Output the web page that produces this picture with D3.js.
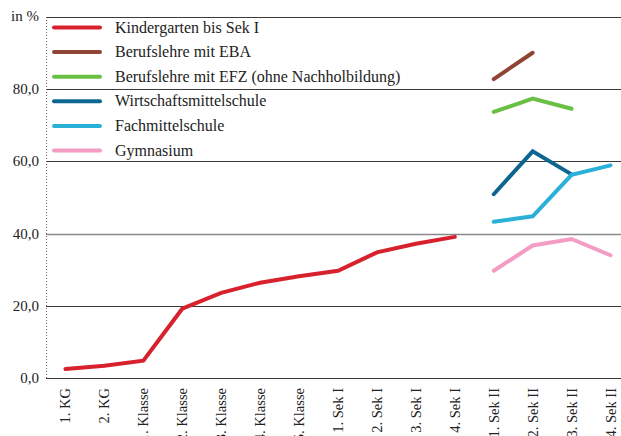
<!DOCTYPE html>
<html>
<head>
<meta charset="utf-8">
<script src="https://cdn.jsdelivr.net/npm/d3@7"></script>
<style>
  body { margin: 0; background: #fff; }
  svg { display: block; }
  text { font-family: 'Liberation Serif', 'Times New Roman', 'DejaVu Serif', serif; }
</style>
</head>
<body>
<svg id="chart" width="621" height="436"></svg>
<script>
// categories along the x axis
const categories = ['1. KG', '2. KG', '1. Klasse', '2. Klasse', '3. Klasse', '4. Klasse', '5. Klasse',
    '1. Sek I', '2. Sek I', '3. Sek I', '4. Sek I', '1. Sek II', '2. Sek II', '3. Sek II', '4. Sek II'];

// series values (null = no value)
const kindergarten = [2.5, 3.4, 4.8, 19.2, 23.6, 26.4, 28.2, 29.7, 34.8, 37.2, 39.1, null, null, null, null];
const eba = [null, null, null, null, null, null, null, null, null, null, null, 82.8, 90.1, null, null];
const efz = [null, null, null, null, null, null, null, null, null, null, null, 73.7, 77.4, 74.6, null];
const wms = [null, null, null, null, null, null, null, null, null, null, null, 50.9, 62.8, 56.4, null];
const fms = [null, null, null, null, null, null, null, null, null, null, null, 43.3, 44.8, 56.3, 58.9];
const gym = [null, null, null, null, null, null, null, null, null, null, null, 29.7, 36.7, 38.5, 34.0];

const seriesNames = ['Kindergarten bis Sek I', 'Berufslehre mit EBA', 'Berufslehre mit EFZ (ohne Nachholbildung)',
    'Wirtschaftsmittelschule', 'Fachmittelschule', 'Gymnasium'];
const seriesColors = ['#d7222e', '#904436', '#6abf45', '#0d6690', '#2bb0d8', '#f39cc4'];
const yTicks = [0, 20, 40, 60, 80, 100];

const allSeries = [kindergarten, eba, efz, wms, fms, gym];

const svg = d3.select('#chart');
const plotLeft = 46, plotRight = 621, plotTop = 17, plotBottom = 378;

const x = d3.scalePoint().domain(categories).range([plotLeft, 630]).padding(0.5);
const y = d3.scaleLinear().domain([0, 100]).range([plotBottom, plotTop]);

// gridlines
svg.append('g').selectAll('line').data(yTicks).enter().append('line')
    .attr('x1', plotLeft).attr('x2', plotRight)
    .attr('y1', d => Math.round(y(d)) + 0.5).attr('y2', d => Math.round(y(d)) + 0.5)
    .attr('stroke', d => d == 40 ? '#8a8a8a' : '#3a3a3a')
    .attr('stroke-width', d => d == 40 ? 1.6 : 1);

// dotted left axis
svg.append('line')
    .attr('x1', plotLeft + 0.5).attr('x2', plotLeft + 0.5)
    .attr('y1', plotTop).attr('y2', plotBottom)
    .attr('stroke', '#666').attr('stroke-dasharray', '1,2');

// y tick labels
svg.append('g').selectAll('text').data(yTicks.filter(d => d < 100)).enter().append('text')
    .attr('x', 39).attr('y', d => y(d) + 5)
    .attr('text-anchor', 'end')
    .attr('font-size', 15)
    .attr('fill', '#222')
    .text(d => d3.format('.1f')(d).replace('.', ','));

svg.append('text').attr('x', 11).attr('y', 21)
    .attr('font-size', 15).attr('fill', '#222').text('in %');

// x labels, rotated
svg.append('g').selectAll('text').data(categories).enter().append('text')
    .attr('transform', d => 'translate(' + (x(d) + 5) + ',388) rotate(-90)')
    .attr('text-anchor', 'end')
    .attr('font-size', 14.5)
    .attr('fill', '#222')
    .text(d => d);

// lines
const line = d3.line()
    .defined(d => d != null)
    .x((d, i) => x(categories[i]))
    .y(d => y(d));

svg.append('g').selectAll('path').data(allSeries).enter().append('path')
    .attr('d', line)
    .attr('fill', 'none')
    .attr('stroke', (d, i) => seriesColors[i])
    .attr('stroke-width', 4)
    .attr('stroke-linecap', 'round')
    .attr('stroke-linejoin', 'miter');

// legend
const legend = svg.append('g').selectAll('g').data(seriesNames).enter().append('g')
    .attr('transform', (d, i) => 'translate(0,' + (27.5 + i * 24.6) + ')');
legend.append('line')
    .attr('x1', 54).attr('x2', 100)
    .attr('stroke', (d, i) => seriesColors[i])
    .attr('stroke-width', 4)
    .attr('stroke-linecap', 'round');
legend.append('text')
    .attr('x', 115).attr('y', 5)
    .attr('font-size', 16)
    .attr('fill', '#222')
    .text(d => d);
</script>
</body>
</html>
